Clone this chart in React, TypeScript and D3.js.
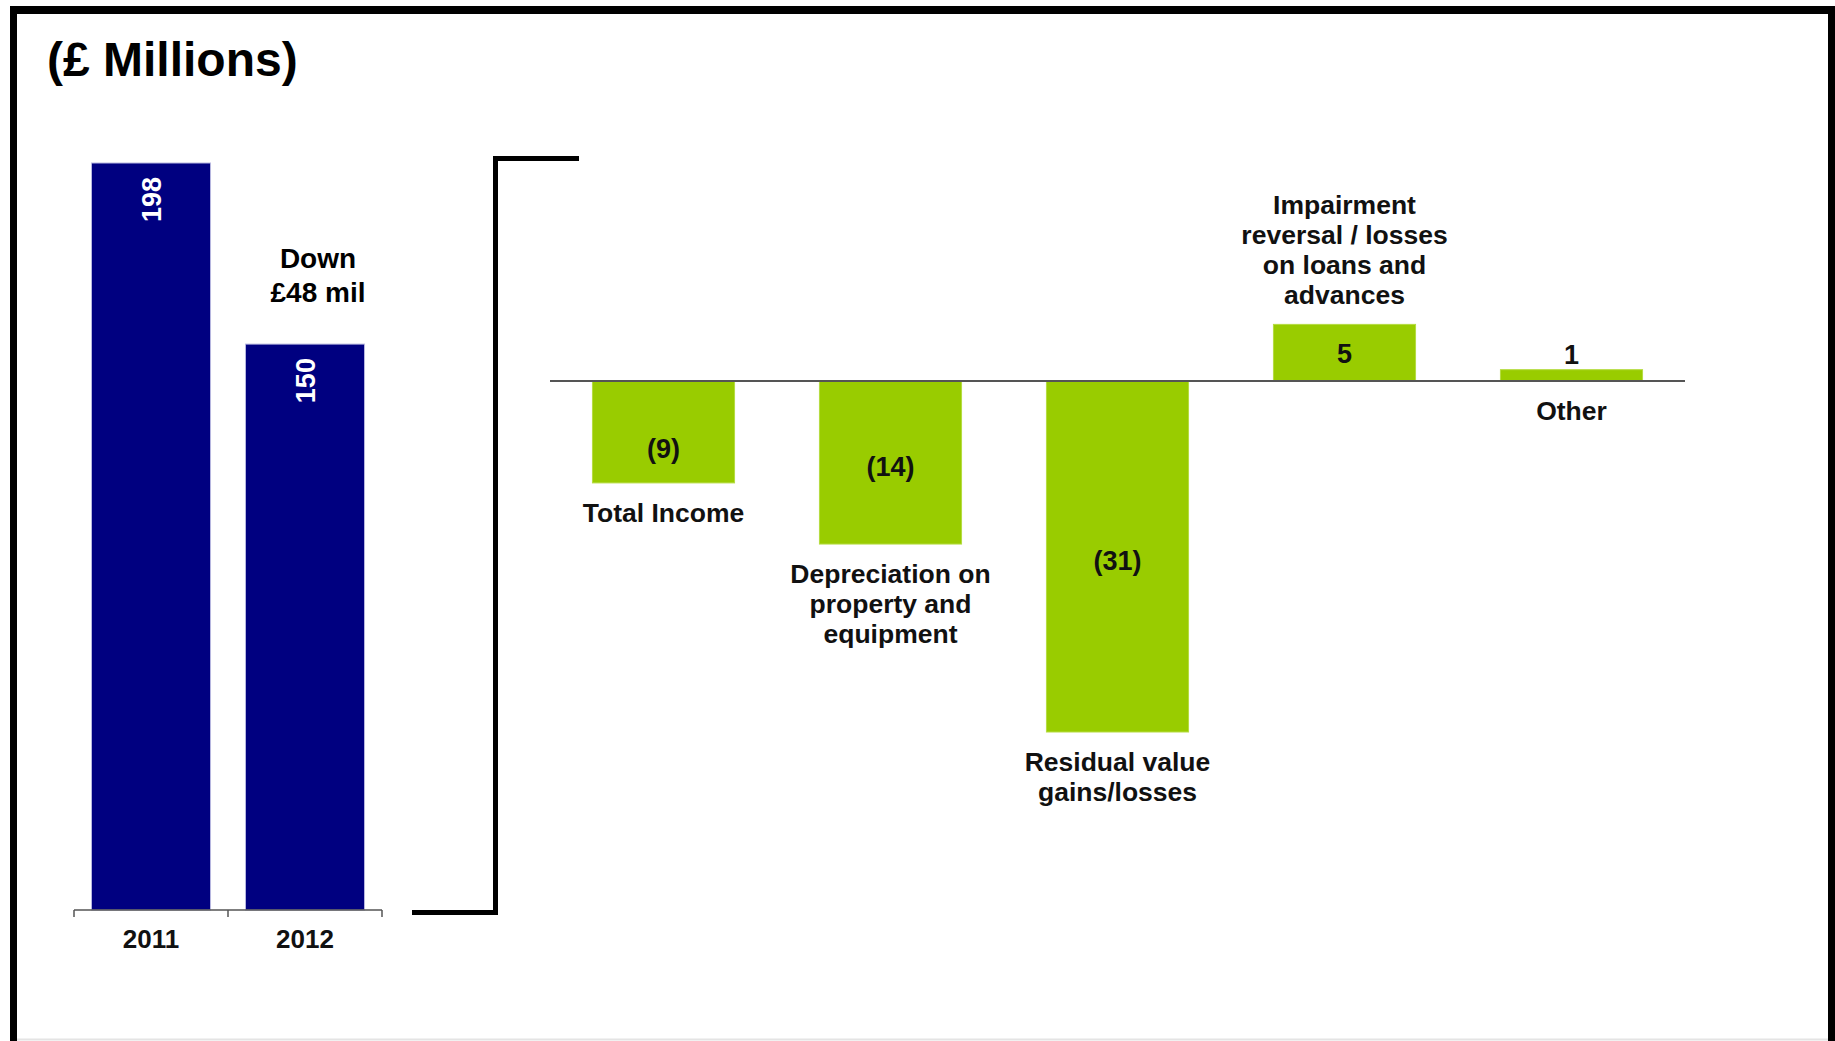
import React from "react";
import * as d3 from "d3";

const years = ["2011", "2012"];
const yearValues = [198, 150];

const categories = [
  ["Total Income"],
  ["Depreciation on", "property and", "equipment"],
  ["Residual value", "gains/losses"],
  ["Impairment", "reversal / losses", "on loans and", "advances"],
  ["Other"],
];
const changeValues = [-9, -14.4, -31, 5, 1];

const NAVY = "#000080";
const GREEN = "#99CC00";
const FONT = "'Liberation Sans', Arial, sans-serif";

export default function App() {
  const W = 1835;
  const H = 1041;

  // Left chart scales
  const xL = d3.scaleBand<string>().domain(years).range([74, 382]).paddingInner(0.227).paddingOuter(0.1135);
  const yL = d3.scaleLinear().domain([0, 198]).range([910, 163]);

  // Right chart scales
  const idx = categories.map((_, i) => String(i));
  const xR = d3.scaleBand<string>().domain(idx).range([550, 1685]).paddingInner(0.374).paddingOuter(0.187);
  const yR = d3.scaleLinear().domain([-31, 0]).range([732, 381]);
  const zero = yR(0);

  const fmt = (v: number) => {
    const r = Math.round(Math.abs(v));
    return v < 0 ? `(${r})` : `${r}`;
  };

  const diff = yearValues[0] - yearValues[1];
  const x2012 = (xL(years[1]) as number) + xL.bandwidth() / 2;
  const top2012 = yL(yearValues[1]);

  const ticks = [xL.range()[0], ...years.slice(1).map((y) => xL(y)! - (xL.step() * xL.paddingInner()) / 2), xL.range()[1]];

  return (
    <svg width={W} height={H} style={{ position: "absolute", left: 0, top: 0, background: "#fff" }} fontFamily={FONT}>
      <rect x={0} y={0} width={W} height={H} fill="#fff" />
      {/* frame */}
      <rect x={10} y={6} width={1822} height={8} fill="#000" />
      <rect x={10} y={6} width={7} height={1035} fill="#000" />
      <rect x={1828} y={6} width={7} height={1035} fill="#000" />
      <line x1={17} x2={1828} y1={1039.5} y2={1039.5} stroke="#e4e4e4" strokeWidth={2} />

      <text x={47} y={76} fontSize={48} fontWeight="bold" fill="#000">(£ Millions)</text>

      {/* Left chart */}
      {years.map((y, i) => {
        const x = xL(y)!;
        const top = yL(yearValues[i]);
        const cx = x + xL.bandwidth() / 2;
        return (
          <g key={y}>
            <rect x={x} y={top} width={xL.bandwidth()} height={yL(0) - top} fill={NAVY} stroke="#b8b8e0" strokeWidth={1} />
            <text
              transform={`translate(${cx + 10},${top + 14}) rotate(-90)`}
              textAnchor="end"
              fontSize={27}
              fontWeight="bold"
              fill="#fff"
            >
              {yearValues[i]}
            </text>
            <text x={cx} y={948} textAnchor="middle" fontSize={26} fontWeight="bold" fill="#111">
              {y}
            </text>
          </g>
        );
      })}
      <line x1={xL.range()[0]} x2={xL.range()[1]} y1={yL(0)} y2={yL(0)} stroke="#555" strokeWidth={1.5} />
      {ticks.map((t, i) => (
        <line key={i} x1={t} x2={t} y1={yL(0)} y2={yL(0) + 7} stroke="#555" strokeWidth={1.5} />
      ))}
      <text x={x2012 + 13} y={top2012 - 76} textAnchor="middle" fontSize={28} fontWeight="bold" fill="#000">
        Down
      </text>
      <text x={x2012 + 13} y={top2012 - 42} textAnchor="middle" fontSize={28} fontWeight="bold" fill="#000">
        £{diff} mil
      </text>

      {/* bracket */}
      <path d="M412,912.5 H495.5 V158.5 H579" fill="none" stroke="#000" strokeWidth={5} />

      {/* Right chart */}
      {changeValues.map((v, i) => {
        const x = xR(String(i))!;
        const bw = xR.bandwidth();
        const cx = x + bw / 2;
        const yTop = Math.min(yR(v), zero);
        const yBot = Math.max(yR(v), zero);
        const h = yBot - yTop;
        const lines = categories[i];
        const above = v > 0 && lines.length > 1;
        const inside = h > 30;
        const mid = v < 0 ? Math.max((yTop + yBot) / 2 + 3, zero + 67) : (yTop + yBot) / 2;
        const valueY = inside ? mid + 10 : yTop - 6;
        return (
          <g key={i}>
            <rect x={x} y={yTop} width={bw} height={h} fill={GREEN} stroke="#b5dc40" strokeWidth={1} />
            <text x={cx} y={valueY} textAnchor="middle" fontSize={27} fontWeight="bold" fill="#111">
              {fmt(v)}
            </text>
            {lines.map((ln, j) => {
              const y = above ? yTop - 20 - (lines.length - 1 - j) * 30 : yBot + 39 + j * 30;
              return (
                <text key={j} x={cx} y={y} textAnchor="middle" fontSize={26.5} fontWeight="bold" fill="#111">
                  {ln}
                </text>
              );
            })}
          </g>
        );
      })}
      <line x1={xR.range()[0]} x2={xR.range()[1]} y1={zero} y2={zero} stroke="#555" strokeWidth={2} />
    </svg>
  );
}
